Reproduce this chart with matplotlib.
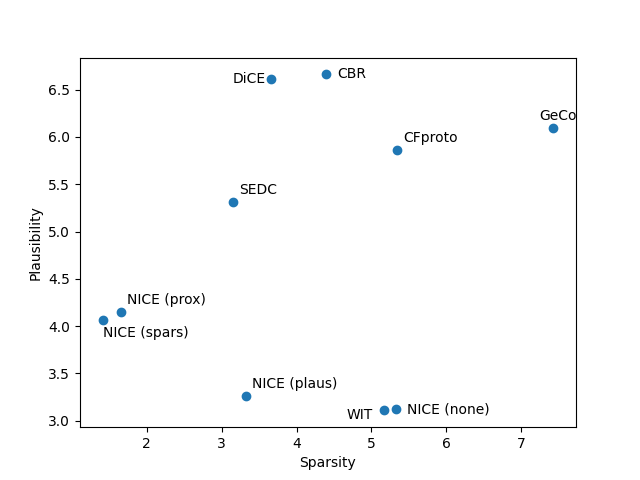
import matplotlib
matplotlib.use('Agg')
import matplotlib.pyplot as plt

methods = ['DiCE', 'CBR', 'GeCo', 'CFproto', 'SEDC', 'NICE (prox)',
           'NICE (spars)', 'NICE (plaus)', 'WIT', 'NICE (none)']
sparsity = [3.66, 4.39, 7.43, 5.34, 3.15, 1.65, 1.41, 3.32, 5.17, 5.33]
plausibility = [6.61, 6.66, 6.09, 5.86, 5.31, 4.15, 4.07, 3.26, 3.11, 3.12]

# label offsets (points) and alignment for each method
offsets = {
    'DiCE': ((-3.5, 0), 'right', 'center'),
    'CBR': ((8, 0), 'left', 'center'),
    'GeCo': ((3, 4), 'center', 'bottom'),
    'CFproto': ((4.5, 3.5), 'left', 'bottom'),
    'SEDC': ((4.5, 3.5), 'left', 'bottom'),
    'NICE (prox)': ((4.5, 3.5), 'left', 'bottom'),
    'NICE (spars)': ((0, -5), 'left', 'top'),
    'NICE (plaus)': ((4.5, 3.5), 'left', 'bottom'),
    'WIT': ((-8, -3), 'right', 'center'),
    'NICE (none)': ((8, 0), 'left', 'center'),
}

fig, ax = plt.subplots(figsize=(6.4, 4.8), dpi=100)
ax.scatter(sparsity, plausibility)
for name, x, y in zip(methods, sparsity, plausibility):
    off, ha, va = offsets[name]
    ax.annotate(name, (x, y), xytext=off, textcoords='offset points',
                ha=ha, va=va)

ax.set_xlabel('Sparsity')
ax.set_ylabel('Plausibility')

plt.savefig('out.png')
